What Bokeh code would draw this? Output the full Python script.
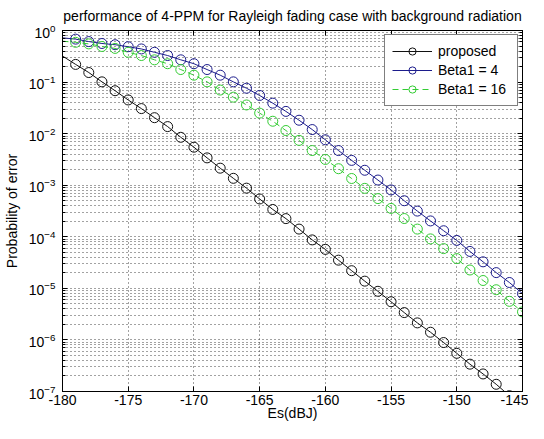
from bokeh.plotting import figure
from bokeh.models import FixedTicker, LinearAxis, LogAxis, CustomJSTickFormatter
from bokeh.embed import file_html
from bokeh.resources import INLINE

# ---------------- data ----------------
es_db = [-180, -179, -178, -177, -176, -175, -174, -173, -172, -171,
         -170, -169, -168, -167, -166, -165, -164, -163, -162, -161,
         -160, -159, -158, -157, -156, -155, -154, -153, -152, -151,
         -150, -149, -148, -147, -146, -145]

proposed = [3.2e-1, 2.2e-1, 1.53e-1, 1.01e-1, 6.8e-2, 4.5e-2, 3.06e-2, 2.04e-2, 1.37e-2, 8.5e-3,
            5.46e-3, 3.39e-3, 2.14e-3, 1.36e-3, 8.77e-4, 5.41e-4, 3.39e-4, 2.25e-4, 1.41e-4, 8.7e-5,
            5.7e-5, 3.52e-5, 2.2e-5, 1.38e-5, 8.77e-6, 5.5e-6, 3.39e-6, 2.14e-6, 1.41e-6, 8.9e-7,
            5.5e-7, 3.39e-7, 2.19e-7, 1.38e-7, 8.3e-8, 5.2e-8]

beta1_4 = [7.2e-1, 6.8e-1, 6.1e-1, 5.6e-1, 5.3e-1, 4.85e-1, 4.39e-1, 3.78e-1, 3.27e-1, 2.7e-1,
           2.27e-1, 1.75e-1, 1.36e-1, 1.01e-1, 7.6e-2, 5.5e-2, 3.9e-2, 2.7e-2, 1.82e-2, 1.2e-2,
           7.6e-3, 4.7e-3, 3.03e-3, 1.95e-3, 1.26e-3, 8.1e-4, 5.0e-4, 3.15e-4, 2.03e-4, 1.31e-4,
           8.5e-5, 5.2e-5, 3.27e-5, 2.02e-5, 1.3e-5, 7.9e-6]

beta1_16 = [6.2e-1, 5.9e-1, 5.5e-1, 4.9e-1, 4.5e-1, 3.78e-1, 3.27e-1, 2.7e-1, 2.27e-1, 1.75e-1,
            1.36e-1, 1.01e-1, 7.0e-2, 5.1e-2, 3.6e-2, 2.5e-2, 1.74e-2, 1.15e-2, 7.4e-3, 4.7e-3,
            3.16e-3, 2.09e-3, 1.35e-3, 8.7e-4, 5.5e-4, 3.55e-4, 2.26e-4, 1.41e-4, 9.1e-5, 5.9e-5,
            3.78e-5, 2.27e-5, 1.42e-5, 9.4e-6, 5.6e-6, 3.5e-6]

x_ticks = [-180, -175, -170, -165, -160, -155, -150, -145]
y_ticks = [1e-7, 1e-6, 1e-5, 1e-4, 1e-3, 1e-2, 1e-1, 1e0]

title_text = "performance of 4-PPM for Rayleigh fading case with background radiation"
x_label = "Es(dBJ)"
y_label = "Probability of error"
labels = ["proposed", "Beta1 = 4", "Beta1 = 16"]

# ---------------- styling ----------------
FONT = "Liberation Sans"
colors = ["#111111", "#1c1c8c", "#33cc33"]
dashes = ["solid", "solid", "6 4"]

y_minor = [m * t for t in y_ticks[:-1] for m in range(2, 10)]
x_ticker = FixedTicker(ticks=x_ticks)
y_ticker = FixedTicker(ticks=y_ticks, minor_ticks=y_minor)

p = figure(width=528, height=423, x_range=(-180, -145), y_range=(1e-7, 1),
           y_axis_type="log", output_backend="svg", toolbar_location=None,
           min_border_left=54, min_border_right=6, min_border_top=30,
           min_border_bottom=30)
p.background_fill_color = "white"
p.border_fill_color = "white"
p.outline_line_color = "black"
p.outline_line_width = 1

p.title.text = title_text
p.title.text_font = FONT
p.title.text_font_size = "14px"
p.title.text_font_style = "normal"
p.title.align = "center"
p.title.vertical_align = "top"
p.title.text_color = "black"
p.title.standoff = 10

# grids
p.xgrid.ticker = x_ticker
p.ygrid.ticker = y_ticker
for g in (p.xgrid, p.ygrid):
    g.grid_line_color = "#444444"
    g.grid_line_dash = "1 3"
    g.grid_line_width = 1
p.ygrid.minor_grid_line_color = "#444444"
p.ygrid.minor_grid_line_dash = "1 3"
p.ygrid.minor_grid_line_width = 1

blank = CustomJSTickFormatter(code="return ''")
plain_x = CustomJSTickFormatter(code="return tick.toFixed(0)")

def style_axis(ax, show_labels=True):
    ax.axis_line_color = "black"
    ax.major_tick_line_color = "black"
    ax.minor_tick_line_color = "black"
    ax.major_tick_in = 5
    ax.major_tick_out = 0
    ax.minor_tick_in = 3
    ax.minor_tick_out = 0
    ax.major_label_text_font = FONT
    ax.major_label_text_color = "black"
    ax.major_label_text_font_size = "14px"
    ax.axis_label_text_font = FONT
    ax.axis_label_text_font_style = "normal"
    ax.axis_label_text_font_size = "14px"
    ax.axis_label_text_color = "black"
    if not show_labels:
        ax.formatter = blank
        ax.major_label_text_font_size = "1px"
        ax.major_label_standoff = 0

xb = p.xaxis[0]
xb.ticker = x_ticker
xb.formatter = plain_x
style_axis(xb)
xb.axis_label = x_label
xb.major_label_standoff = 3
xb.axis_label_standoff = -3

yl = p.yaxis[0]
yl.ticker = y_ticker
style_axis(yl)
yl.axis_label = y_label
yl.major_label_standoff = 7
yl.axis_label_standoff = 6

xt = LinearAxis(ticker=x_ticker)
style_axis(xt, show_labels=False)
p.add_layout(xt, "above")

yr = LogAxis(ticker=y_ticker)
style_axis(yr, show_labels=False)
p.add_layout(yr, "right")

# series
for vals, col, dash, lab in zip([proposed, beta1_4, beta1_16], colors, dashes, labels):
    p.line(es_db, vals, line_color=col, line_width=1, line_dash=dash, legend_label=lab)
    p.scatter(es_db[1:], vals[1:], marker="circle", size=10, fill_color=None,
              line_color=col, line_width=1, legend_label=lab)

leg = p.legend[0]
leg.location = "top_right"
leg.margin = 4
leg.padding = 7
leg.spacing = 1
leg.glyph_width = 40
leg.glyph_height = 18
leg.label_height = 18
leg.label_width = 72
leg.label_standoff = 6
leg.label_text_font = FONT
leg.label_text_font_size = "14px"
leg.label_text_color = "black"
leg.border_line_color = "black"
leg.border_line_width = 1
leg.background_fill_color = "white"
leg.background_fill_alpha = 1

open("out.html", "w").write(file_html(p, INLINE))
